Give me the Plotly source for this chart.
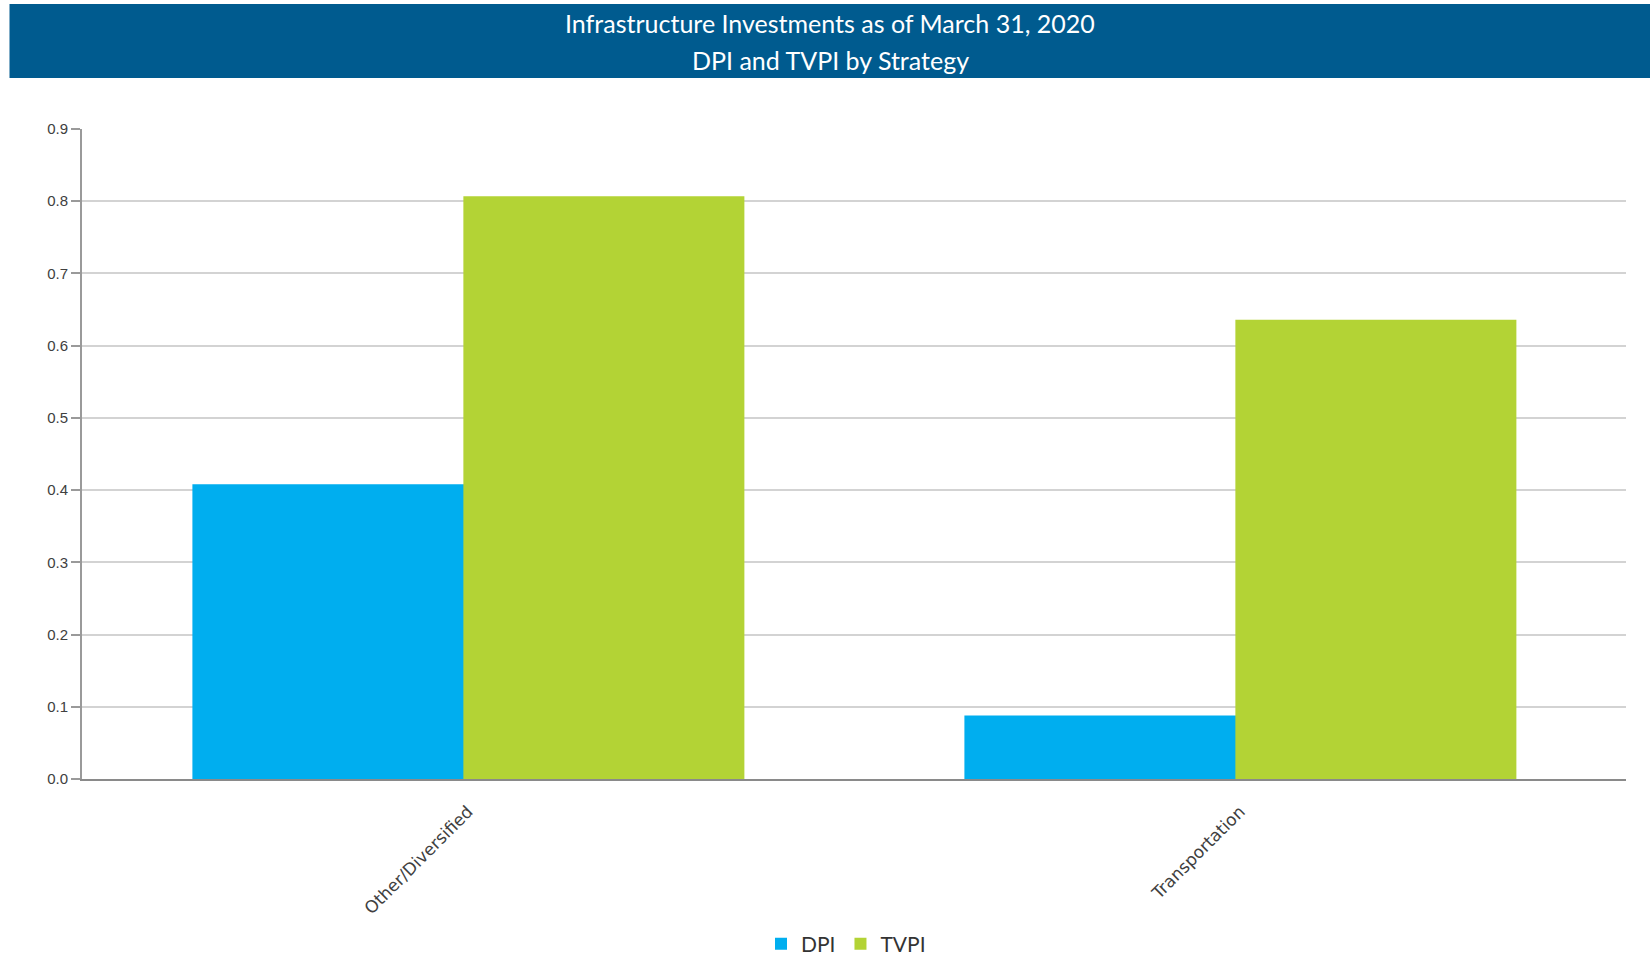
import plotly.graph_objects as go

categories = ["Other/Diversified", "Transportation"]
dpi_values = [0.408, 0.088]
tvpi_values = [0.807, 0.636]
series_names = ["DPI", "TVPI"]
series_colors = ["#00AEEF", "#B3D335"]
title_lines = ["Infrastructure Investments as of March 31, 2020", "DPI and TVPI by Strategy"]

# bar geometry within each category slot (style, in category units)
bar_widths = [0.352, 0.364]
bar_offsets = [-0.357, -0.006]

W, H = 1650, 957
ml, mr, mt = 82, 24, 129
mb = H - 779
pw = W - ml - mr
ph = H - mt - mb

def px_x(x):
    return (x - ml) / pw

def px_y(y):
    return (H - mb - y) / ph

fig = go.Figure()
for name, vals, col, wd, off in zip(series_names, [dpi_values, tvpi_values], series_colors,
                                    bar_widths, bar_offsets):
    fig.add_trace(go.Bar(x=categories, y=vals, name=name, width=wd, offset=off,
                         marker=dict(color=col, line=dict(width=0))))

fig.update_layout(
    width=W, height=H,
    margin=dict(l=ml, r=mr, t=mt, b=mb, autoexpand=False),
    paper_bgcolor="white", plot_bgcolor="white",
    barmode="group",
    showlegend=True,
    legend=dict(orientation="h", x=px_x(846), xanchor="center", y=px_y(944), yanchor="middle",
                font=dict(family="Lato", size=21, color="#333333"),
                traceorder="normal"),
    font=dict(family="Liberation Sans", color="#404040"),
)
fig.update_yaxes(range=[0, 0.9], dtick=0.1, tickformat=".1f",
                 showgrid=True, gridcolor="#D3D3D3", gridwidth=2,
                 showline=True, linecolor="#9A9A9A", linewidth=2,
                 ticks="outside", ticklen=9, tickcolor="#9A9A9A", tickwidth=2,
                 tickfont=dict(family="Liberation Sans", size=15, color="#404040"),
                 zeroline=False, fixedrange=True, automargin=False)
fig.update_xaxes(showline=True, linecolor="#8A8A8A", linewidth=2,
                 tickangle=-45, ticks="", ticklabelstandoff=14,
                 tickfont=dict(family="DejaVu Sans", size=17, color="#404040"),
                 fixedrange=True, automargin=False)

fig.add_shape(type="rect", xref="paper", yref="paper",
              x0=px_x(9.5), x1=px_x(1652), y0=px_y(78), y1=px_y(4),
              fillcolor="#005B8F", line=dict(width=0), layer="below")
for txt, yc in zip(title_lines, [23, 60]):
    fig.add_annotation(text=txt, xref="paper", yref="paper", x=px_x(830), y=px_y(yc),
                       xanchor="center", yanchor="middle", showarrow=False,
                       font=dict(family="Lato", size=25, color="white"))

fig.write_html("out.html",
               config={"displayModeBar": False},
               post_script="document.body.style.margin='0';document.body.style.overflow='hidden';")
